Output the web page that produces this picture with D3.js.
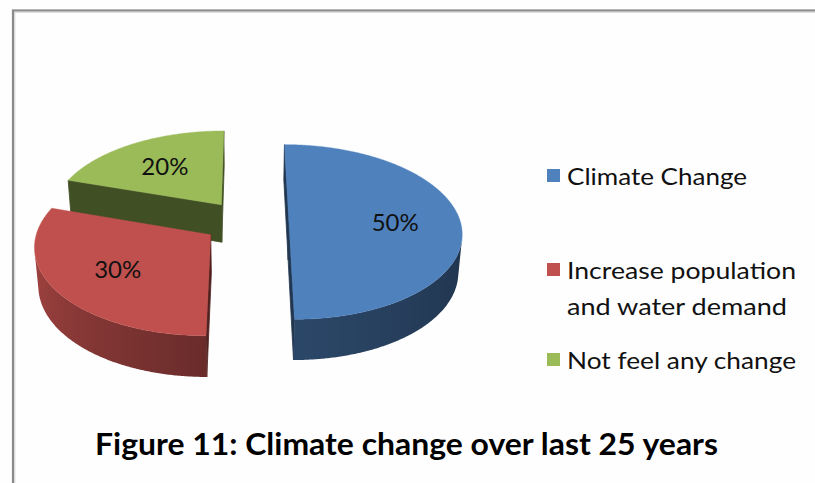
<!DOCTYPE html>
<html>
<head>
<meta charset="utf-8">
<script src="https://cdn.jsdelivr.net/npm/d3@7"></script>
<style>
  html, body { margin: 0; padding: 0; background: #ffffff; }
  svg { display: block; }
</style>
</head>
<body>
<svg id="chart" width="815" height="483"></svg>
<script>
// ---- data ----
const categories = ["Climate Change", "Increase population and water demand", "Not feel any change"];
const values = [50, 30, 20];
const valueLabels = ["50%", "30%", "20%"];
const legendLines = [["Climate Change"], ["Increase population", "and water demand"], ["Not feel any change"]];
const sliceColors = ["#4F81BD", "#C0504D", "#9BBB59"];
const titleText = "Figure 11: Climate change over last 25 years";

// ---- 3D pie geometry (unit radius) ----
const W = 815, Hpx = 483;
const elev = 31 * Math.PI / 180;          // viewing elevation
const sinA = Math.sin(elev), cosA = Math.cos(elev);
const camDist = 7.5;                      // perspective distance, in radii
const pxPerUnit = 170;                    // scale at the look-at point
const focal = pxPerUnit * camDist;
const thick = 0.26;                       // pie height, in radii
const explode = 0.25;                     // slice explosion, in radii
const cx0 = 246, cy0 = 241;               // screen point of the look-at point

// project a point in pie space: px right, pz away from viewer, h up
function project(px, pz, h) {
  const dh = h - thick / 2;
  const vUp = pz * sinA + dh * cosA;
  const dist = camDist + pz * cosA - dh * sinA;
  const s = focal / dist;
  return [cx0 + px * s, cy0 - vUp * s];
}
const camPos = { px: 0, pz: -camDist * cosA, h: thick / 2 + camDist * sinA };

const svg = d3.select("#chart");
const defs = svg.append("defs");
svg.append("rect").attr("width", W).attr("height", Hpx).attr("fill", "#fefefe");

// chart frame (only the top and left edges fall inside the view)
svg.append("rect").attr("x", 13).attr("y", 10.5).attr("width", 900).attr("height", 600)
  .attr("fill", "none").attr("stroke", "#8a8a8a").attr("stroke-width", 2.2);
svg.append("rect").attr("x", 14.8).attr("y", 12.2).attr("width", 900).attr("height", 600)
  .attr("fill", "none").attr("stroke", "#cfcfcf").attr("stroke-width", 1);

const pie = d3.pie().sort(null).value(d => d)(values);
const color = d3.scaleOrdinal().domain(categories).range(sliceColors);
// brightness of the outer wall by the direction its surface faces (degrees, clockwise from back)
const wallShade = d3.scaleLinear().domain([90, 180, 270]).range([0.38, 0.55, 0.88]).clamp(true);
const cutShade = 0.42;

function shade(hex, k) {
  const c = d3.rgb(hex);
  return d3.rgb(c.r * k, c.g * k, c.b * k).formatHex();
}

const slices = pie.map((p, i) => {
  const mid = (p.startAngle + p.endAngle) / 2;
  return {
    i, p, mid,
    ox: explode * Math.sin(mid),
    oz: explode * Math.cos(mid),
    base: color(categories[i])
  };
});

// farthest slices first
const order = slices.slice().sort((a, b) => b.oz - a.oz);
const line = d3.line();
const gPie = svg.append("g");

function facing(nx, nz, x, z) {
  return nx * (camPos.px - x) + nz * (camPos.pz - z) > 0;
}

order.forEach(s => {
  const g = gPie.append("g");
  const a0 = s.p.startAngle, a1 = s.p.endAngle;
  const rim = (a, h) => project(s.ox + Math.sin(a), s.oz + Math.cos(a), h);
  const ctr = h => project(s.ox, s.oz, h);

  // radial cut faces
  [[a0, -1], [a1, 1]].forEach(([a, sign]) => {
    const nx = sign * Math.cos(a), nz = -sign * Math.sin(a);
    const mx = s.ox + 0.5 * Math.sin(a), mz = s.oz + 0.5 * Math.cos(a);
    if (facing(nx, nz, mx, mz)) {
      const pts = [ctr(thick), rim(a, thick), rim(a, 0), ctr(0)];
      g.append("path").attr("d", line(pts) + "Z")
        .attr("fill", shade(s.base, cutShade))
        .attr("stroke", shade(s.base, cutShade)).attr("stroke-width", 0.8);
    }
  });

  // outer wall: the part turned toward the viewer, shaded by a horizontal gradient
  const steps = Math.ceil((a1 - a0) / (Math.PI / 360));
  const vis = [];
  for (let k = 0; k <= steps; k++) {
    const t = a0 + (a1 - a0) * k / steps;
    const nx = Math.sin(t), nz = Math.cos(t);
    if (facing(nx, nz, s.ox + nx, s.oz + nz)) vis.push(t);
  }
  if (vis.length > 1) {
    const top = vis.map(t => rim(t, thick));
    const bot = vis.map(t => rim(t, 0)).reverse();
    const xs = top.map(p => p[0]);
    const x1 = d3.min(xs), x2 = d3.max(xs);
    const gid = "wall" + s.i;
    const grad = defs.append("linearGradient").attr("id", gid)
      .attr("gradientUnits", "userSpaceOnUse")
      .attr("x1", x1).attr("x2", x2).attr("y1", 0).attr("y2", 0);
    const stops = vis.map((t, k) => ({ off: (xs[k] - x1) / (x2 - x1), col: shade(s.base, wallShade(t * 180 / Math.PI)) }))
      .sort((a, b) => a.off - b.off);
    stops.forEach(st => grad.append("stop").attr("offset", st.off).attr("stop-color", st.col));
    g.append("path").attr("d", line(top.concat(bot)) + "Z")
      .attr("fill", `url(#${gid})`);
  }

  // top face
  const topPts = [ctr(thick)];
  const n = Math.ceil((a1 - a0) / (Math.PI / 360));
  for (let k = 0; k <= n; k++) topPts.push(rim(a0 + (a1 - a0) * k / n, thick));
  g.append("path").attr("d", line(topPts) + "Z")
    .attr("fill", s.base).attr("stroke", s.base).attr("stroke-width", 0.4);
});

// value labels on the top faces
const labelFont = "Lato, 'Open Sans', sans-serif";
slices.forEach(s => {
  const r = 0.62;
  const [x, y] = project(s.ox + r * Math.sin(s.mid), s.oz + r * Math.cos(s.mid), thick);
  svg.append("text").attr("x", x).attr("y", y)
    .attr("text-anchor", "middle").attr("dominant-baseline", "central")
    .attr("font-family", labelFont).attr("font-size", 24).attr("fill", "#111")
    .text(valueLabels[s.i]);
});

// legend
const legendBaselines = [185, 279, 369];
const legendWidths = [[180], [229, 220], [229]];
const legendLineGap = 36;
const gLeg = svg.append("g");
categories.forEach((c, i) => {
  const yb = legendBaselines[i];
  gLeg.append("rect").attr("x", 547).attr("y", yb - 16).attr("width", 13).attr("height", 13)
    .attr("fill", color(c));
  legendLines[i].forEach((t, j) => {
    gLeg.append("text").attr("x", 567).attr("y", yb + j * legendLineGap)
      .attr("font-family", labelFont).attr("font-size", 24).attr("fill", "#111")
      .attr("textLength", legendWidths[i][j]).attr("lengthAdjust", "spacingAndGlyphs")
      .text(t);
  });
});

// title
svg.append("text").attr("x", 95).attr("y", 455)
  .attr("font-family", labelFont).attr("font-weight", "bold").attr("font-size", 30)
  .attr("fill", "#000").attr("textLength", 623).attr("lengthAdjust", "spacingAndGlyphs")
  .text(titleText);
</script>
</body>
</html>
